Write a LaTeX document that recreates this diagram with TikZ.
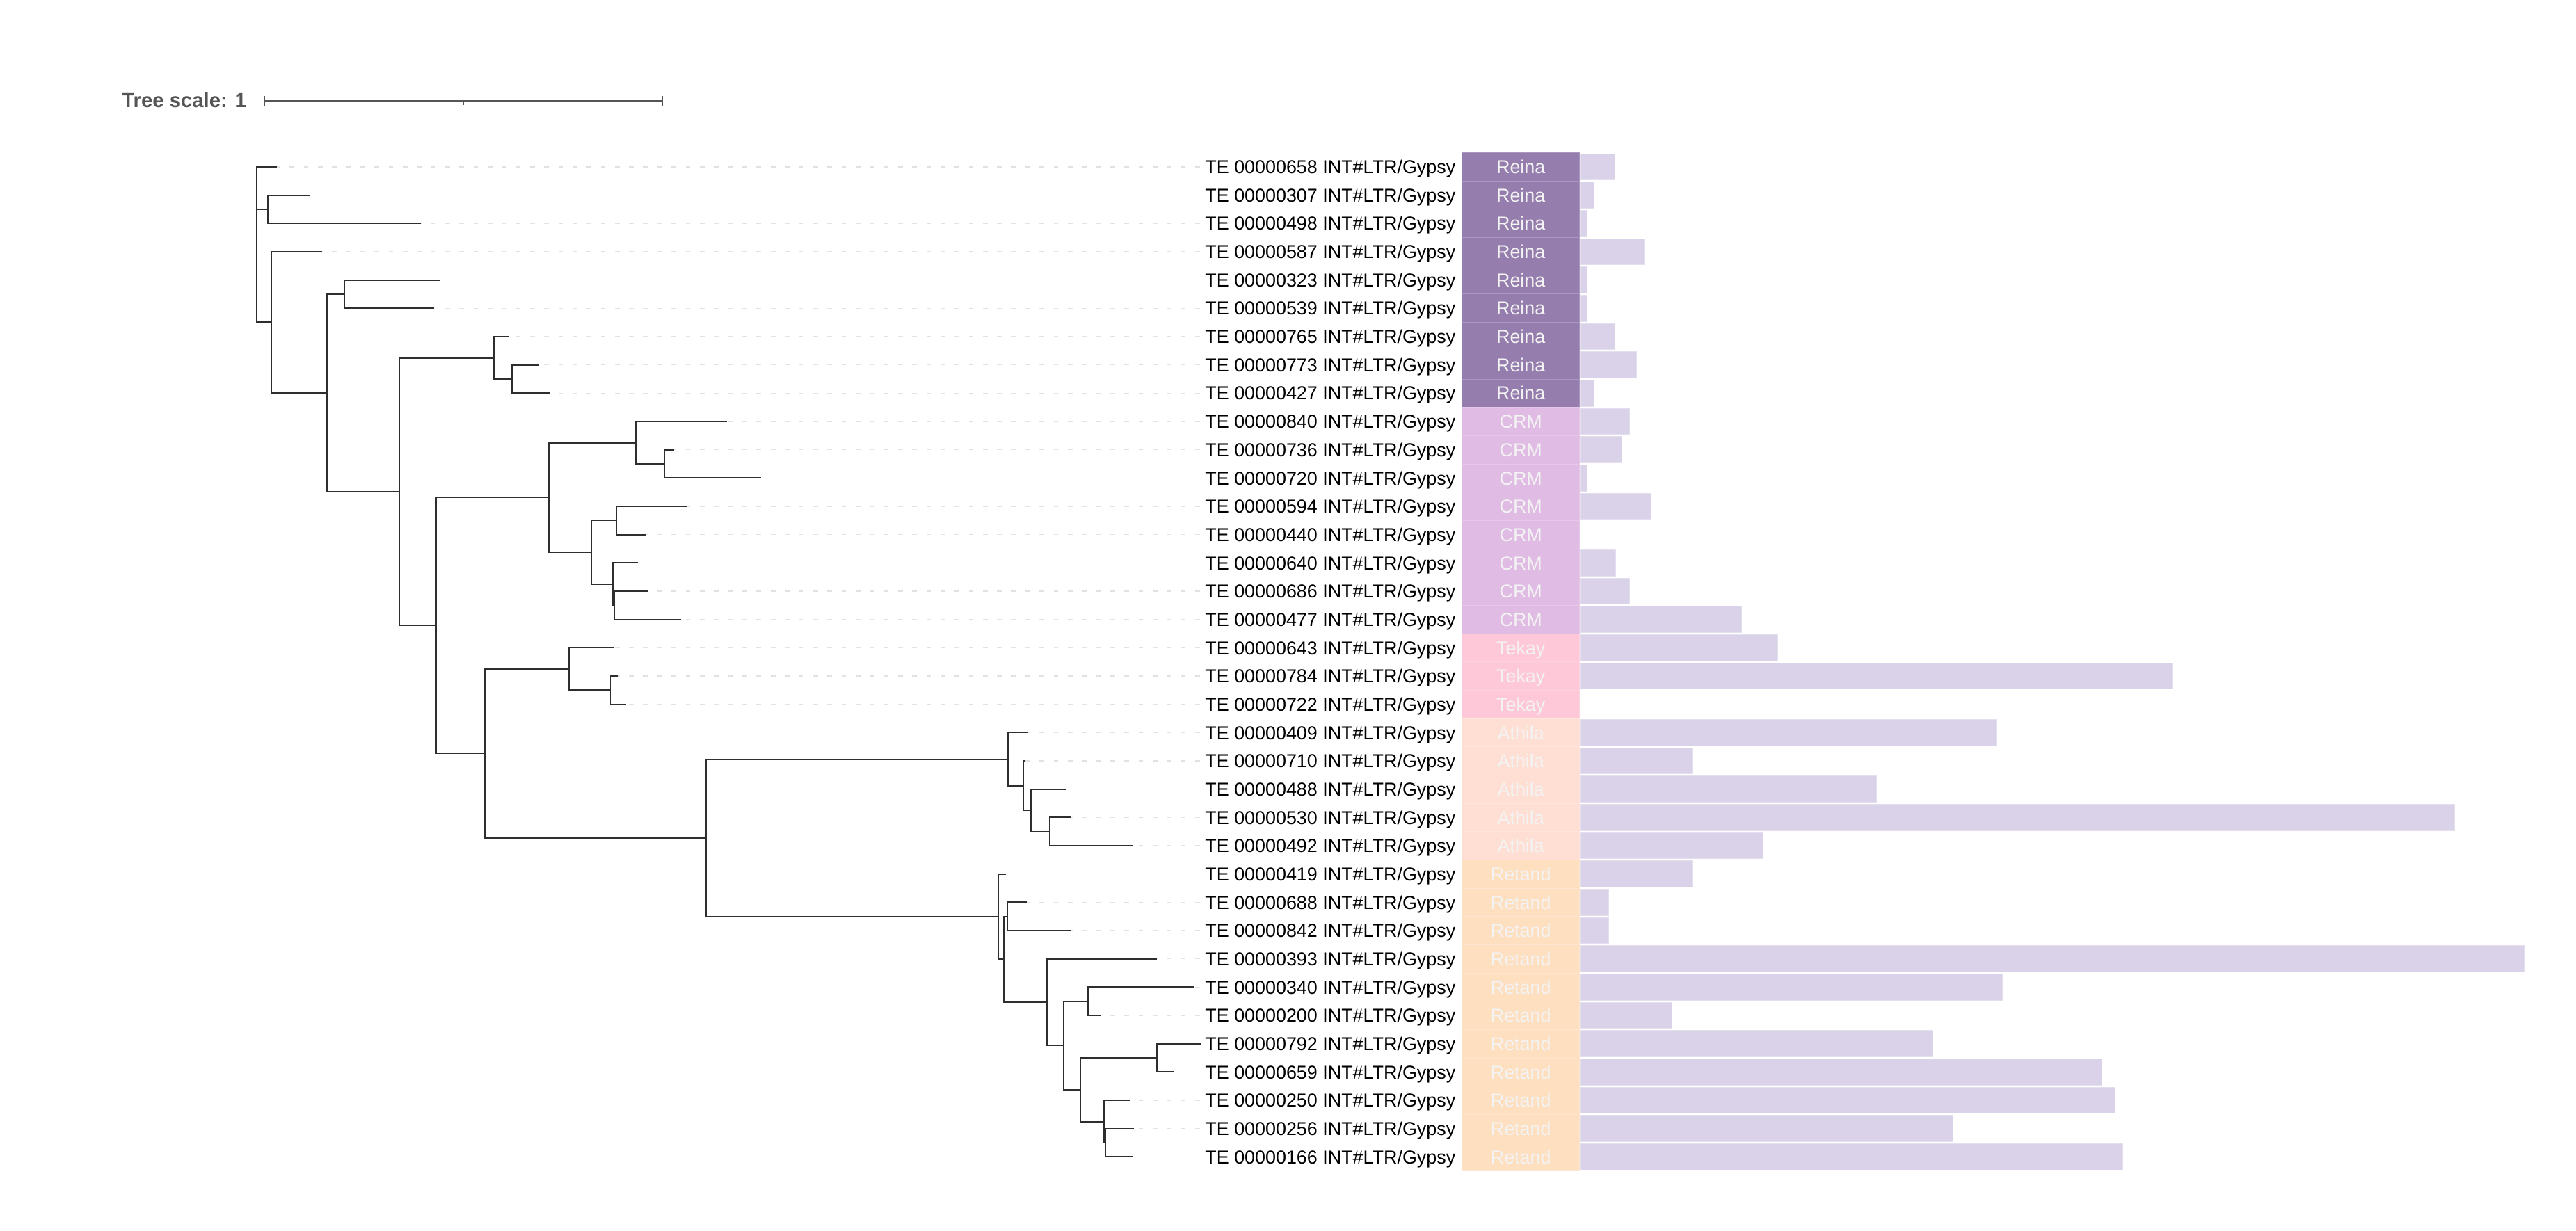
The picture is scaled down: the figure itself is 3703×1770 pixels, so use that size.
\documentclass[tikz,border=0pt]{standalone}
\usepackage{fontspec}
\setmainfont{Liberation Sans}
\usetikzlibrary{calc}
\definecolor{cReina}{HTML}{957DAD}
\definecolor{cCRM}{HTML}{E0BBE4}
\definecolor{cTekay}{HTML}{FEC8D8}
\definecolor{cAthila}{HTML}{FFDFD3}
\definecolor{cRetand}{HTML}{FEDFC0}
\definecolor{cBar}{HTML}{D9D2E9}
\definecolor{cBarEdge}{HTML}{E4DFEF}
\definecolor{cBranch}{HTML}{2E2E2E}
\definecolor{cDash}{HTML}{E2E2E2}
\definecolor{cScale}{HTML}{555555}
\definecolor{cClsText}{HTML}{F3F3F3}
\newcommand\treenode[4]{%
  \path ($(#3)!0.5!(#4)$) coordinate (tmpmid);
  \coordinate (#1) at (#2,0 |- tmpmid);
  \draw[branch] (#1) |- (#3);
  \draw[branch] (#1) |- (#4);
}
\begin{document}
\begin{tikzpicture}[x=0.5pt,y=-0.5pt,
  branch/.style={draw=cBranch, line width=1pt},
  dashln/.style={draw=cDash, line width=0.7pt, dash pattern=on 3.35pt off 6.82pt},
  lab/.style={anchor=west, inner sep=0pt, text height=9.63pt, text depth=0pt,
    font=\fontsize{13.45}{16}\selectfont, text=black},
  clsbox/.style={minimum width=84.5pt, minimum height=20.35pt, inner sep=0pt,
    line width=0.5pt, text height=9.63pt, text depth=0pt,
    font=\fontsize{13.45}{16}\selectfont, text=cClsText},
  barst/.style={fill=cBar, draw=cBarEdge, line width=0.5pt},
  sbar/.style={draw=cScale, line width=1pt}]
\useasboundingbox (0,0) rectangle (3703,1770);
\fill[white] (0,0) rectangle (3703,1770);
% tree scale
\node[anchor=base west, inner sep=0pt, font=\bfseries\fontsize{14.65}{17}\selectfont, text=cScale] (ts) at (175,154.3) {Tree scale: 1};
\coordinate (sbL) at (379.6,145);
\coordinate (sbR) at (952,145);
\coordinate (sbM) at (665.8,145);
\draw[sbar] (sbL) -- (sbR);
\draw[sbar] (sbL) ++(0,-6.7) -- ++(0,13.4);
\draw[sbar] (sbR) ++(0,-6.7) -- ++(0,13.4);
\draw[sbar] (sbM) -- ++(0,5.7);
% leaves
\foreach \i/\id/\cls/\be/\tx in {
 1/00000658/Reina/2321.9/397.5,
 2/00000307/Reina/2291.5/444.7,
 3/00000498/Reina/2281.7/604.7,
 4/00000587/Reina/2363/462.6,
 5/00000323/Reina/2281.7/631.7,
 6/00000539/Reina/2281.7/623.5,
 7/00000765/Reina/2321.9/731.8,
 8/00000773/Reina/2352.7/774.7,
 9/00000427/Reina/2291.5/791,
 10/00000840/CRM/2342/1045.4,
 11/00000736/CRM/2331/969.4,
 12/00000720/CRM/2281.7/1093.9,
 13/00000594/CRM/2373.4/986.7,
 14/00000440/CRM/0/929.1,
 15/00000640/CRM/2322/917.3,
 16/00000686/CRM/2342.7/931.1,
 17/00000477/CRM/2503.3/979.1,
 18/00000643/Tekay/2555.3/883.2,
 19/00000784/Tekay/3122/889.3,
 20/00000722/Tekay/0/900,
 21/00000409/Athila/2869.3/1477.7,
 22/00000710/Athila/2432.4/1474,
 23/00000488/Athila/2697/1532.3,
 24/00000530/Athila/3528.2/1539.3,
 25/00000492/Athila/2534/1628.3,
 26/00000419/Retand/2432.4/1445.7,
 27/00000688/Retand/2312/1475.7,
 28/00000842/Retand/2312/1540.3,
 29/00000393/Retand/3628.6/1663.3,
 30/00000340/Retand/2878.8/1716,
 31/00000200/Retand/2403/1581.7,
 32/00000792/Retand/2778/1725.7,
 33/00000659/Retand/3021.7/1687.3,
 34/00000250/Retand/3040.8/1625.3,
 35/00000256/Retand/2807.9/1630,
 36/00000166/Retand/3051.4/1628.3}{
  \pgfmathsetmacro\yy{240+40.67*(\i-1)}
  \coordinate (t\i) at (\tx,\yy);
  \coordinate (d\i) at (1724.7,\yy);
  \draw[dashln] (d\i) -- (t\i);
  \node[lab] (l\i) at (1732,\yy) {TE \id{} INT\#LTR/Gypsy};
  \node[clsbox, fill=c\cls, draw=c\cls!80!white] (c\i) at (2186.2,\yy) {\cls};
  \ifdim\be pt>0pt
    \path[barst] (2271.5,\yy-18.8) rectangle (\be,\yy+18.8);
  \fi
}
% internal nodes (bottom-up)
\treenode{nA}{384.8}{t2}{t3}
\treenode{nD}{494.5}{t5}{t6}
\treenode{nG}{735.9}{t8}{t9}
\treenode{nF}{710.4}{t7}{nG}
\treenode{nL}{955.1}{t11}{t12}
\treenode{nK}{914.3}{t10}{nL}
\treenode{nN}{886.2}{t13}{t14}
\treenode{nP}{883.2}{t16}{t17}
\treenode{nO}{880.6}{t15}{nP}
\treenode{nM}{850}{nN}{nO}
\treenode{nJ}{788.8}{nK}{nM}
\treenode{nS}{878.2}{t19}{t20}
\treenode{nQ}{817.9}{t18}{nS}
\treenode{nW}{1509.3}{t24}{t25}
\treenode{nV}{1481.7}{t23}{nW}
\treenode{nU}{1470.7}{t22}{nV}
\treenode{nT}{1449}{t21}{nU}
\treenode{nZ}{1447.7}{t27}{t28}
\treenode{nAC}{1564.3}{t30}{t31}
\treenode{nAE}{1663.3}{t32}{t33}
\treenode{nAG}{1588.8}{t35}{t36}
\treenode{nAF}{1587.3}{t34}{nAG}
\treenode{nAD}{1553.3}{nAE}{nAF}
\treenode{nAB}{1528.7}{nAC}{nAD}
\treenode{nAA}{1504.7}{t29}{nAB}
\treenode{nY}{1443.3}{nZ}{nAA}
\treenode{nX}{1434.7}{t26}{nY}
\treenode{nR}{1015.2}{nT}{nX}
\treenode{nI}{696.8}{nQ}{nR}
\treenode{nH}{626.6}{nJ}{nI}
\treenode{nE}{574.2}{nF}{nH}
\treenode{nC}{469.9}{nD}{nE}
\treenode{nB}{390}{t4}{nC}
\coordinate (root) at (368.9,0 |- nA);
\draw[branch] (root) |- (t1);
\draw[branch] (root) |- (nA);
\draw[branch] (root) |- (nB);
\end{tikzpicture}
\end{document}
